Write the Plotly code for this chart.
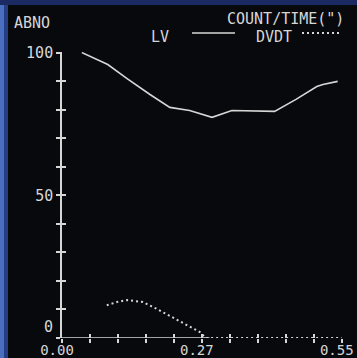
import plotly.graph_objects as go

# ---- data ----
lv_x = [0.039, 0.090, 0.128, 0.173, 0.212, 0.251, 0.295, 0.334, 0.418, 0.460, 0.501, 0.513, 0.542]
lv_y = [100.0, 95.8, 90.9, 85.3, 80.8, 79.7, 77.3, 79.7, 79.4, 83.6, 88.1, 88.8, 89.9]
dvdt_x = [0.088, 0.108, 0.128, 0.159, 0.183, 0.226, 0.271, 0.283, 0.55]
dvdt_y = [11.5, 12.6, 13.3, 12.6, 10.5, 6.3, 2.1, 0.0, 0.0]
x_tickvals = [round(i * 0.055, 3) for i in range(11)]
x_ticktext = ["0.00", "", "", "", "", "0.27", "", "", "", "", "0.55"]
y_tickvals = list(range(0, 101, 10))
y_ticktext = ["", "", "", "", "", "50", "", "", "", "", "100"]
y_zero_label = "0"

W, H = 357, 358
L, R, T, B = 62, 15, 52, 20
PW, PH = W - L - R, H - T - B

def xp(px):
    return (px - L) / PW

def yp(py):
    return (H - B - py) / PH

FG = "#d6d6d6"
BG = "#08090d"
FONT = dict(family="DejaVu Sans Mono", size=15, color=FG)
XFONT = dict(family="DejaVu Sans Mono", size=14, color=FG)

fig = go.Figure()
fig.add_trace(go.Scatter(x=lv_x, y=lv_y, mode="lines", name="LV",
                         line=dict(color=FG, width=1.6), showlegend=False))
fig.add_trace(go.Scatter(x=dvdt_x, y=dvdt_y, mode="lines", name="DVDT",
                         line=dict(color=FG, width=2, dash="2px,3px"), showlegend=False))
# helper trace for inside ticks overlay axes
fig.add_trace(go.Scatter(x=lv_x, y=lv_y, mode="lines", xaxis="x2", yaxis="y2",
                         line=dict(width=0, color="rgba(0,0,0,0)"), showlegend=False,
                         hoverinfo="skip"))

axis_common = dict(showgrid=False, zeroline=False, tickcolor=FG, tickwidth=1.5, ticklen=4,
                   automargin=False)
fig.update_layout(
    width=W, height=H,
    margin=dict(l=L, r=R, t=T, b=B),
    paper_bgcolor=BG, plot_bgcolor=BG,
    font=FONT,
    xaxis=dict(range=[0, 0.5505], tickmode="array", tickvals=x_tickvals, ticktext=x_ticktext,
               ticks="outside", showline=False, tickfont=XFONT, ticklabeloverflow="allow",
               ticklabelshift=-5, ticklabelstandoff=-5, **axis_common),
    yaxis=dict(range=[0, 100.2], tickmode="array", tickvals=y_tickvals, ticktext=y_ticktext,
               ticks="outside", showline=True, linecolor=FG, linewidth=1.6, tickfont=FONT,
               ticklabeloverflow="allow", **axis_common),
    xaxis2=dict(range=[0, 0.5505], overlaying="x", anchor="y2", tickmode="array",
                tickvals=x_tickvals, showticklabels=False, ticks="inside", showline=False,
                **axis_common),
    yaxis2=dict(range=[0, 100.2], overlaying="y", anchor="x2", tickmode="array",
                tickvals=y_tickvals, showticklabels=False, ticks="inside", showline=False,
                **axis_common),
    showlegend=False,
)

shapes = [
    # x axis baseline (solid only up to ~0.29)
    dict(type="line", xref="x", yref="y", x0=0, x1=0.29, y0=0, y1=0,
         line=dict(color=FG, width=1.6)),
    # legend samples
    dict(type="line", xref="paper", yref="paper", x0=xp(192), x1=xp(235), y0=yp(33), y1=yp(33),
         line=dict(color=FG, width=1.6)),
    dict(type="line", xref="paper", yref="paper", x0=xp(302), x1=xp(340), y0=yp(33), y1=yp(33),
         line=dict(color=FG, width=2, dash="2px,3px")),
    # blue screen border (photo edge)
    dict(type="rect", xref="paper", yref="paper", x0=xp(0), x1=xp(4), y0=yp(H), y1=yp(0),
         fillcolor="#4a6fc0", line=dict(width=0), layer="above"),
    dict(type="rect", xref="paper", yref="paper", x0=xp(4), x1=xp(8), y0=yp(H), y1=yp(0),
         fillcolor="#243f86", line=dict(width=0), layer="above"),
    dict(type="rect", xref="paper", yref="paper", x0=xp(0), x1=xp(W), y0=yp(5), y1=yp(0),
         fillcolor="#1b2a62", line=dict(width=0), layer="above"),
]
fig.update_layout(shapes=shapes)

annotations = [
    dict(text="ABNO", x=xp(13), y=yp(23), xanchor="left", yanchor="middle"),
    dict(text="COUNT/TIME(\")", x=xp(226), y=yp(19), xanchor="left", yanchor="middle"),
    dict(text="LV", x=xp(150), y=yp(37), xanchor="left", yanchor="middle"),
    dict(text="DVDT", x=xp(255), y=yp(37), xanchor="left", yanchor="middle"),
]
for a in annotations:
    a.update(xref="paper", yref="paper", showarrow=False, font=FONT, borderpad=0)
annotations.append(dict(text=y_zero_label, xref="paper", yref="y", x=xp(54), y=y_tickvals[0],
                        xanchor="right", yanchor="middle", yshift=11, showarrow=False,
                        font=FONT, borderpad=0))
fig.update_layout(annotations=annotations)

fig.write_html("out.html", config={"displayModeBar": False},
               post_script="document.body.style.margin='0';")
